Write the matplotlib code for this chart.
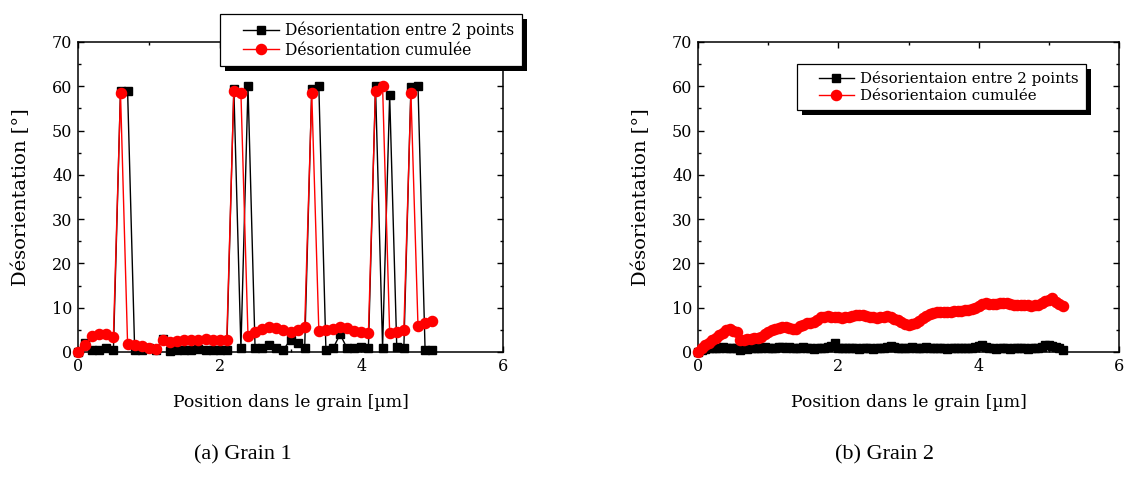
import matplotlib
matplotlib.use("Agg")
import matplotlib.pyplot as plt
from matplotlib.patches import Rectangle
from matplotlib.ticker import MultipleLocator
from matplotlib.legend_handler import HandlerLine2D

# ---------------- data ----------------
# Grain 1
g1_x = [0.0, 0.1, 0.2, 0.3, 0.4, 0.5, 0.6, 0.7, 0.8, 0.9,
        1.0, 1.1, 1.2, 1.3, 1.4, 1.5, 1.6, 1.7, 1.8, 1.9,
        2.0, 2.1, 2.2, 2.3, 2.4, 2.5, 2.6, 2.7, 2.8, 2.9,
        3.0, 3.1, 3.2, 3.3, 3.4, 3.5, 3.6, 3.7, 3.8, 3.9,
        4.0, 4.1, 4.2, 4.3, 4.4, 4.5, 4.6, 4.7, 4.8, 4.9, 5.0]
g1_between = [0.0, 2.0, 0.5, 0.5, 0.8, 0.5, 59.0, 59.0, 0.5, 0.5,
              1.0, 0.5, 3.0, 0.3, 0.5, 0.5, 0.5, 0.7, 0.5, 0.5,
              0.5, 0.5, 59.5, 0.8, 60.0, 0.8, 1.0, 1.5, 1.0, 0.5,
              2.8, 2.0, 0.8, 59.5, 60.0, 0.5, 0.8, 4.0, 0.8, 0.8,
              1.2, 1.0, 60.0, 1.0, 58.0, 1.2, 0.8, 59.8, 60.0, 0.5, 0.5]
g1_cumul = [0.0, 1.5, 3.7, 4.0, 4.0, 3.5, 58.5, 1.8, 1.6, 1.4,
            0.8, 0.6, 2.7, 2.2, 2.4, 2.6, 2.7, 2.7, 2.9, 2.7,
            2.7, 2.6, 59.0, 58.5, 3.6, 4.6, 5.2, 5.7, 5.4, 5.0,
            4.5, 5.0, 5.6, 58.5, 4.8, 5.0, 5.3, 5.7, 5.5, 4.8,
            4.5, 4.2, 59.0, 60.0, 4.2, 4.6, 5.0, 58.5, 5.8, 6.5, 7.0]

# Grain 2
g2_x = [0.00, 0.05, 0.10, 0.15, 0.20, 0.25, 0.30, 0.35, 0.40, 0.45,
        0.50, 0.55, 0.60, 0.65, 0.70, 0.75, 0.80, 0.85, 0.90, 0.95,
        1.00, 1.05, 1.10, 1.15, 1.20, 1.25, 1.30, 1.35, 1.40, 1.45,
        1.50, 1.55, 1.60, 1.65, 1.70, 1.75, 1.80, 1.85, 1.90, 1.95,
        2.00, 2.05, 2.10, 2.15, 2.20, 2.25, 2.30, 2.35, 2.40, 2.45,
        2.50, 2.55, 2.60, 2.65, 2.70, 2.75, 2.80, 2.85, 2.90, 2.95,
        3.00, 3.05, 3.10, 3.15, 3.20, 3.25, 3.30, 3.35, 3.40, 3.45,
        3.50, 3.55, 3.60, 3.65, 3.70, 3.75, 3.80, 3.85, 3.90, 3.95,
        4.00, 4.05, 4.10, 4.15, 4.20, 4.25, 4.30, 4.35, 4.40, 4.45,
        4.50, 4.55, 4.60, 4.65, 4.70, 4.75, 4.80, 4.85, 4.90, 4.95,
        5.00, 5.05, 5.10, 5.15, 5.20]
g2_between = [0.0, 0.4, 0.6, 0.8, 1.0, 0.9, 1.0, 1.1, 0.9, 0.8,
              1.0, 0.9, 0.5, 0.8, 0.7, 0.9, 0.8, 1.0, 0.9, 1.1,
              0.8, 0.9, 1.0, 1.2, 1.1, 1.0, 1.2, 1.0, 0.9, 1.0,
              1.1, 0.8, 0.9, 0.7, 1.0, 0.9, 0.8, 1.2, 1.4, 2.0,
              1.0, 0.8, 0.9, 1.0, 0.8, 0.9, 0.7, 1.0, 0.8, 0.9,
              0.7, 0.8, 0.9, 1.0, 1.1, 1.3, 1.1, 0.9, 1.0, 0.8,
              0.9, 1.2, 0.9, 0.8, 1.0, 1.2, 1.0, 0.9, 0.8, 1.0,
              0.9, 0.7, 0.8, 0.9, 1.0, 0.8, 0.9, 1.0, 0.8, 1.1,
              1.3, 1.6, 1.2, 0.8, 0.9, 0.7, 0.8, 0.9, 0.8, 0.7,
              0.8, 0.9, 1.0, 0.8, 0.7, 0.8, 0.9, 0.8, 1.2, 1.6,
              1.5, 1.3, 1.2, 0.8, 0.4]
g2_cumul = [0.0, 0.8, 1.5, 2.0, 2.6, 3.2, 3.8, 4.4, 4.9, 5.1,
            4.8, 4.6, 2.8, 2.7, 2.9, 3.0, 3.1, 3.2, 3.5, 4.1,
            4.6, 4.9, 5.1, 5.5, 5.7, 5.6, 5.4, 5.1, 5.3, 5.9,
            6.2, 6.5, 6.6, 6.8, 7.2, 7.8, 8.0, 8.1, 7.9, 7.8,
            7.8, 7.7, 7.9, 8.0, 8.1, 8.3, 8.4, 8.3, 8.1, 8.0,
            7.9, 7.7, 7.8, 7.9, 8.1, 7.8, 7.4, 7.2, 6.8, 6.4,
            6.1, 6.3, 6.6, 7.0, 7.6, 8.1, 8.5, 8.7, 9.0, 9.1,
            9.1, 9.0, 9.1, 9.2, 9.3, 9.3, 9.4, 9.5, 9.6, 9.9,
            10.4, 10.8, 11.0, 10.9, 10.8, 10.9, 11.0, 11.1, 11.0, 10.9,
            10.7, 10.6, 10.6, 10.7, 10.6, 10.5, 10.6, 10.7, 11.0, 11.5,
            11.8, 12.1, 11.4, 10.8, 10.4]

labels_g1 = ["Désorientation entre 2 points", "Désorientation cumulée"]
labels_g2 = ["Désorientaion entre 2 points", "Désorientaion cumulée"]
xlabel = "Position dans le grain [µm]"
ylabel = "Désorientation [°]"
captions = ["(a) Grain 1", "(b) Grain 2"]

# ---------------- figure ----------------
W, H = 1126, 484
fig = plt.figure(figsize=(W / 100, H / 100), dpi=100)
plt.rcParams['font.family'] = ['DejaVu Serif']
TFS = 11.5
XLFS = 12.4
YLFS = 14


def px_axes(l, r, t, b):
    return [l / W, 1 - b / H, (r - l) / W, (b - t) / H]

ax1 = fig.add_axes(px_axes(78, 503, 42, 352))
ax2 = fig.add_axes(px_axes(698, 1119, 42, 352))


def style(ax):
    ax.set_xlim(0, 6)
    ax.set_ylim(0, 70)
    ax.xaxis.set_major_locator(MultipleLocator(2))
    ax.xaxis.set_minor_locator(MultipleLocator(1))
    ax.yaxis.set_major_locator(MultipleLocator(10))
    ax.yaxis.set_minor_locator(MultipleLocator(5))
    ax.tick_params(which='both', direction='in', top=True, right=True,
                   labelsize=TFS, width=1.0, colors='black')
    ax.tick_params(which='major', length=4.5, pad=4)
    ax.tick_params(which='minor', length=2.5)
    for s in ax.spines.values():
        s.set_linewidth(1.1)
    ax.set_xlabel(xlabel, fontsize=XLFS)
    ax.set_ylabel(ylabel, fontsize=YLFS)
    ax.yaxis.set_label_coords(-0.113, 0.5)
    ax.xaxis.set_label_coords(0.5, -0.135)
    ax.set_facecolor('none')


def plot_pair(ax, x, b, c, labels):
    ax.plot(x, b, color='black', lw=1.0, marker='s', ms=5.5,
            mfc='black', mec='black', label=labels[0], clip_on=False, zorder=3)
    ax.plot(x, c, color='red', lw=1.0, marker='o', ms=7.3,
            mfc='red', mec='red', label=labels[1], clip_on=False, zorder=4)


style(ax1)
style(ax2)
plot_pair(ax1, g1_x, g1_between, g1_cumul, labels_g1)
plot_pair(ax2, g2_x, g2_between, g2_cumul, labels_g2)

legs = []
for ax, labels, anchor, lfs in [(ax1, labels_g1, (220, 14), 11.2),
                                (ax2, labels_g2, (797, 64), 10.8)]:
    leg = ax.legend(loc='upper left',
                    bbox_to_anchor=(anchor[0] / W, 1 - anchor[1] / H),
                    bbox_transform=fig.transFigure,
                    fontsize=lfs, frameon=True, fancybox=False,
                    edgecolor='black', framealpha=1, borderpad=0.5,
                    handlelength=3.3, handletextpad=0.4, labelspacing=0.15,
                    borderaxespad=0,
                    handler_map={matplotlib.lines.Line2D: HandlerLine2D(xpad=0.95)})
    leg.get_frame().set_linewidth(0.9)
    leg.set_zorder(10)
    legs.append((ax, leg))

fig.text(243 / W, 1 - 455 / H, captions[0], ha='center', va='center',
         fontsize=16, family='Liberation Serif')
fig.text(885 / W, 1 - 455 / H, captions[1], ha='center', va='center',
         fontsize=16, family='Liberation Serif')

# legend shadows
fig.canvas.draw()
for ax, leg in legs:
    bb = leg.get_window_extent()
    sh = Rectangle((bb.x0 + 5, bb.y0 - 5), bb.width, bb.height, transform=None,
                   facecolor='black', edgecolor='none', zorder=9, clip_on=False)
    ax.add_artist(sh)

fig.savefig("out.png", dpi=100)
